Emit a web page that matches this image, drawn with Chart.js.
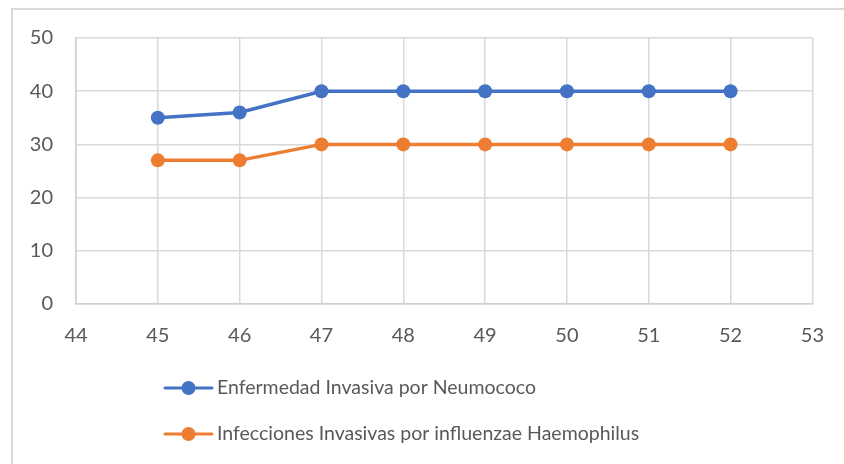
<!DOCTYPE html>
<html>
<head>
<meta charset="utf-8">
<script src="https://cdn.jsdelivr.net/npm/chart.js@4"></script>
<style>
  html, body { margin: 0; padding: 0; background: #ffffff; }
  #wrap { position: relative; width: 844px; height: 464px; }
</style>
</head>
<body>
<div id="wrap"><canvas id="c" width="844" height="464"></canvas></div>
<script>
const weeks = [45, 46, 47, 48, 49, 50, 51, 52];
const neumococo = [35, 36, 40, 40, 40, 40, 40, 40];
const haemophilus = [27, 27, 30, 30, 30, 30, 30, 30];
const seriesNames = ['Enfermedad Invasiva por Neumococo', 'Infecciones Invasivas por influenzae Haemophilus'];
const seriesColors = ['#4472C4', '#ED7D31'];
const xMin = 44, xMax = 53, yMin = 0, yMax = 50, yStep = 10;

const FONT = 'Lato, "Open Sans", sans-serif';
const TEXT = '#595959';

const framePlugin = {
  id: 'frame',
  beforeDraw(chart) {
    const ctx = chart.ctx;
    ctx.save();
    ctx.fillStyle = '#ffffff';
    ctx.fillRect(0, 0, chart.width, chart.height);
    ctx.strokeStyle = '#d9d9d9';
    ctx.lineWidth = 2;
    ctx.strokeRect(12, 9, 1000, 1000);
    ctx.restore();
  }
};

const legendPlugin = {
  id: 'stackLegend',
  afterDraw(chart) {
    const ctx = chart.ctx;
    ctx.save();
    const x0 = 165, rows = [388, 434];
    chart.data.datasets.forEach((ds, i) => {
      const y = rows[i];
      ctx.strokeStyle = ds.borderColor;
      ctx.lineWidth = 3;
      ctx.lineCap = 'round';
      ctx.beginPath();
      ctx.moveTo(x0, y);
      ctx.lineTo(x0 + 47, y);
      ctx.stroke();
      ctx.fillStyle = ds.borderColor;
      ctx.beginPath();
      ctx.arc(x0 + 23.5, y, 7, 0, Math.PI * 2);
      ctx.fill();
      ctx.fillStyle = TEXT;
      ctx.font = '19.5px ' + FONT;
      ctx.textBaseline = 'middle';
      ctx.textAlign = 'left';
      ctx.fillText(ds.label, x0 + 52, y);
    });
    ctx.restore();
  }
};

function toXY(vals) { return weeks.map((w, i) => ({ x: w, y: vals[i] })); }

new Chart(document.getElementById('c'), {
  type: 'line',
  data: {
    datasets: [
      { label: seriesNames[0], data: toXY(neumococo), borderColor: seriesColors[0], backgroundColor: seriesColors[0],
        borderWidth: 3.5, pointRadius: 7, pointHoverRadius: 7, pointBorderWidth: 0, tension: 0 },
      { label: seriesNames[1], data: toXY(haemophilus), borderColor: seriesColors[1], backgroundColor: seriesColors[1],
        borderWidth: 3.5, pointRadius: 7, pointHoverRadius: 7, pointBorderWidth: 0, tension: 0 }
    ]
  },
  options: {
    responsive: false,
    animation: false,
    devicePixelRatio: 1,
    layout: { padding: { top: 38, right: 30, bottom: 0, left: 0 } },
    plugins: { legend: { display: false }, tooltip: { enabled: false } },
    scales: {
      x: {
        type: 'linear', min: xMin, max: xMax,
        ticks: { stepSize: 1, color: TEXT, font: { family: FONT, size: 20 }, padding: 20 },
        grid: { color: '#d9d9d9', lineWidth: 1.5, drawTicks: false },
        border: { color: '#cfcfcf', width: 1.5 },
        afterFit(s) { s.height = 160; }
      },
      y: {
        min: yMin, max: yMax,
        ticks: { stepSize: yStep, color: TEXT, font: { family: FONT, size: 20 }, padding: 23 },
        grid: { color: '#d9d9d9', lineWidth: 1.5, drawTicks: false },
        border: { color: '#cfcfcf', width: 1.5 },
        afterFit(s) { s.width = 76; }
      }
    }
  },
  plugins: [framePlugin, legendPlugin]
});
</script>
</body>
</html>
